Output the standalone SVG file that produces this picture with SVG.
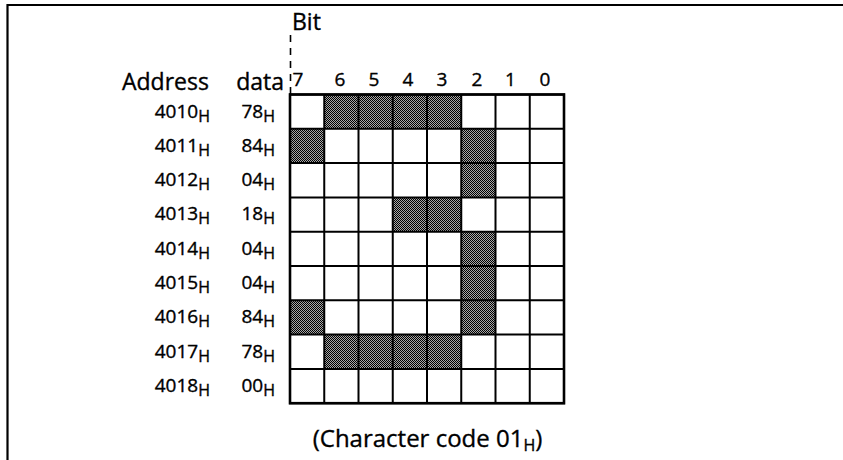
<svg xmlns="http://www.w3.org/2000/svg" width="843" height="460" viewBox="0 0 843 460">
<style>
text{font-family:"Open Sans","Noto Sans","DejaVu Sans",sans-serif;fill:#000;stroke:#000;stroke-width:0.35}
.lab{font-size:23px}
.num{font-size:19px}
.sub{font-size:16px}
.grid{stroke:#000;stroke-width:2;fill:none}
.dot{fill:url(#dots)}
</style>
<defs>
<pattern id="dots" width="2" height="2" patternUnits="userSpaceOnUse">
<rect width="2" height="2" fill="#a8a8a8"/>
<rect width="1" height="1" fill="#000"/>
<rect x="1" y="1" width="1" height="1" fill="#000"/>
</pattern>
</defs>
<rect width="843" height="460" fill="#fff"/>
<g id="frame">
<path d="M7.5 460V5H843" stroke="#000" stroke-width="2.2" fill="none"/>
</g>
<g id="connectors">
<path d="M290.5 35V94" stroke="#000" stroke-width="1.6" stroke-dasharray="7 6" fill="none"/>
</g>
<g id="shaded">
<rect class="dot" x="324.25" y="94.5" width="137" height="34.3"/>
<rect class="dot" x="290" y="128.8" width="34.25" height="34.3"/>
<rect class="dot" x="461.25" y="128.8" width="34.25" height="34.3"/>
<rect class="dot" x="461.25" y="163.1" width="34.25" height="34.3"/>
<rect class="dot" x="392.75" y="197.4" width="68.5" height="34.3"/>
<rect class="dot" x="461.25" y="231.7" width="34.25" height="34.3"/>
<rect class="dot" x="461.25" y="266" width="34.25" height="34.3"/>
<rect class="dot" x="290" y="300.3" width="34.25" height="34.3"/>
<rect class="dot" x="461.25" y="300.3" width="34.25" height="34.3"/>
<rect class="dot" x="324.25" y="334.6" width="137" height="34.3"/>
</g>
<g id="grid" class="grid">
<path d="M290 94.5V403.2M324.25 94.5V403.2M358.5 94.5V403.2M392.75 94.5V403.2M427 94.5V403.2M461.25 94.5V403.2M495.5 94.5V403.2M529.75 94.5V403.2M564 94.5V403.2"/>
<path d="M289 94.5H565M289 128.8H565M289 163.1H565M289 197.4H565M289 231.7H565M289 266H565M289 300.3H565M289 334.6H565M289 368.9H565M289 403.2H565"/>
<rect x="290" y="94.5" width="274" height="308.7" stroke-width="2.6"/>
</g>
<g id="header">
<text class="lab" x="292" y="30">Bit</text>
<text class="lab" x="122" y="90">Address</text>
<text class="lab" x="284" y="90" text-anchor="end">data</text>
</g>
<g id="bits" class="num" text-anchor="middle">
<text x="298" y="86">7</text>
<text x="340" y="86">6</text>
<text x="374" y="86">5</text>
<text x="408" y="86">4</text>
<text x="442" y="86">3</text>
<text x="477" y="86">2</text>
<text x="510.5" y="86">1</text>
<text x="545" y="86">0</text>
</g>
<g id="addresses" class="num" text-anchor="end">
<text x="210" y="117.5">4010<tspan class="sub" dy="4">H</tspan></text>
<text x="210" y="151.8">4011<tspan class="sub" dy="4">H</tspan></text>
<text x="210" y="186.1">4012<tspan class="sub" dy="4">H</tspan></text>
<text x="210" y="220.4">4013<tspan class="sub" dy="4">H</tspan></text>
<text x="210" y="254.7">4014<tspan class="sub" dy="4">H</tspan></text>
<text x="210" y="289">4015<tspan class="sub" dy="4">H</tspan></text>
<text x="210" y="323.3">4016<tspan class="sub" dy="4">H</tspan></text>
<text x="210" y="357.6">4017<tspan class="sub" dy="4">H</tspan></text>
<text x="210" y="391.9">4018<tspan class="sub" dy="4">H</tspan></text>
</g>
<g id="data" class="num" text-anchor="end">
<text x="275" y="117.5">78<tspan class="sub" dy="4">H</tspan></text>
<text x="275" y="151.8">84<tspan class="sub" dy="4">H</tspan></text>
<text x="275" y="186.1">04<tspan class="sub" dy="4">H</tspan></text>
<text x="275" y="220.4">18<tspan class="sub" dy="4">H</tspan></text>
<text x="275" y="254.7">04<tspan class="sub" dy="4">H</tspan></text>
<text x="275" y="289">04<tspan class="sub" dy="4">H</tspan></text>
<text x="275" y="323.3">84<tspan class="sub" dy="4">H</tspan></text>
<text x="275" y="357.6">78<tspan class="sub" dy="4">H</tspan></text>
<text x="275" y="391.9">00<tspan class="sub" dy="4">H</tspan></text>
</g>
<g id="caption">
<text x="427.5" y="447" font-size="24" text-anchor="middle">(Character code 01<tspan class="sub" dy="4">H</tspan><tspan dy="-4">)</tspan></text>
</g>
</svg>
